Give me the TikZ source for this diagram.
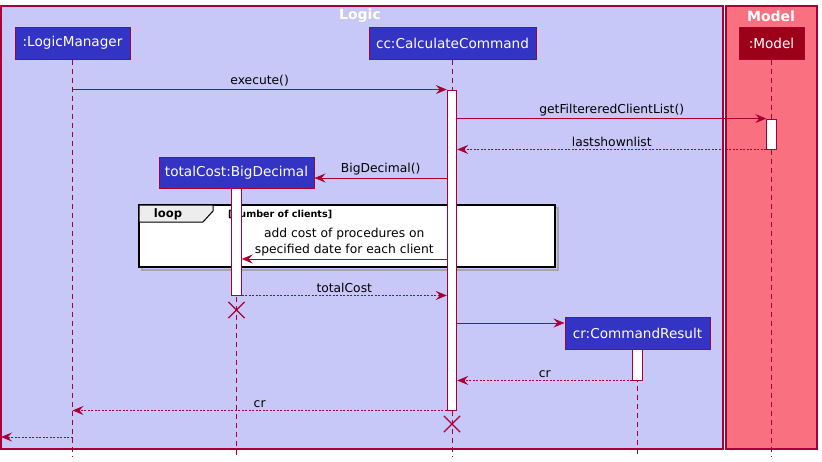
\documentclass[tikz,border=0pt]{standalone}
\usepackage{fontspec}
\setmainfont{DejaVu Sans}
\usetikzlibrary{arrows.meta,shapes.misc}
\definecolor{crim}{HTML}{A80036}
\definecolor{logicfill}{HTML}{C8C8F8}
\definecolor{modelfill}{HTML}{F97181}
\definecolor{partblue}{HTML}{3333C4}
\definecolor{partred}{HTML}{9D0019}
\tikzset{
  grp/.style={draw=crim,line width=1.1pt},
  grptitle/.style={text=white,font=\fontsize{14}{16}\selectfont\bfseries,inner sep=0pt},
  part/.style={draw=crim,line width=1pt,fill=partblue,text=white,font=\fontsize{13.6}{15}\selectfont,minimum height=32pt,inner sep=0pt},
  lifeline/.style={draw=crim,line width=0.9pt,dash pattern=on 5pt off 4pt},
  actbar/.style={draw=crim,line width=0.9pt,fill=white,inner sep=0pt,minimum width=9.5pt},
  msg/.style={draw=crim,line width=0.9pt,-{Stealth[length=11pt,width=9pt,inset=4pt]}},
  ret/.style={msg,dash pattern=on 2pt off 1.5pt},
  lbl/.style={font=\fontsize{12.3}{15}\selectfont,text=black,inner sep=2.5pt,anchor=south},
  killx/.style={draw=crim,line width=1.2pt,cross out,minimum size=15pt,inner sep=0pt}
}
\begin{document}
\begin{tikzpicture}[x=1pt,y=-1pt]
\useasboundingbox (0,0) rectangle (822,461);
% groups
\draw[grp,fill=logicfill] (1,6) rectangle (723,449);
\draw[grp,fill=modelfill] (726,6) rectangle (817,449);
\node[grptitle] (tlogic) at (360,16) {Logic};
\node[grptitle] (tmodel) at (771,16) {Model};
% participants
\node[part,minimum width=115pt] (lm) at (72.5,43) {:LogicManager};
\node[part,minimum width=167pt] (cc) at (452.5,43) {cc:CalculateCommand};
\node[part,minimum width=65pt,fill=partred] (md) at (771.5,43) {:Model};
\node[part,minimum width=155pt,minimum height=31pt] (tc) at (236.5,172.5) {totalCost:BigDecimal};
\node[part,minimum width=145pt] (cr) at (637.5,333) {cr:CommandResult};
% bottom ends of lifelines
\coordinate (bot) at (0,456);
\draw[lifeline] (lm.south) -- (lm |- bot);
\draw[lifeline] (cc.south) -- (cc |- bot);
\draw[lifeline] (md.south) -- (md |- bot);
\draw[lifeline] (tc.south) -- (tc |- bot);
\draw[lifeline] (cr.south) -- (cr |- bot);
% loop frame
\draw[line width=2pt,black!35] (141.5,207.5) rectangle (557.5,269.5);
\draw[line width=1.6pt,black,fill=white] (139,205) rectangle (555,267);
\draw[line width=1pt,black,fill=black!7] (139,205) -- (213,205) -- (213,211) -- (203,222) -- (139,222) -- cycle;
\node[font=\fontsize{11.6}{13}\selectfont\bfseries,inner sep=0pt] (looplbl) at (168,214) {loop};
\node[font=\fontsize{9.6}{11}\selectfont\bfseries,inner sep=0pt,anchor=west] (loopcond) at (228,214) {[number of clients]};
% activation bars
\node[actbar,minimum height=320pt] (acc) at (452,250) {};
\node[actbar,minimum height=30pt] (amd) at (771.5,134) {};
\node[actbar,minimum height=107pt] (atc) at (236.5,241.5) {};
\node[actbar,minimum height=31pt] (acr) at (637.5,364.5) {};
% anchor points
\coordinate (bdin) at ([yshift=-5.5pt]tc.east);
\coordinate (crin) at ([yshift=10pt]cr.west);
\coordinate (ly) at (0,259);
% messages
\draw[msg] (lm |- acc.north) -- node[lbl]{execute()} (acc.north west);
\draw[msg] (acc.east |- amd.north) -- node[lbl]{getFiltereredClientList()} (amd.north west);
\draw[ret] (amd.south west) -- node[lbl]{lastshownlist} (acc.east |- amd.south);
\draw[msg] (acc.west |- bdin) -- node[lbl]{BigDecimal()} (bdin);
\draw[msg] (acc.west |- ly) -- node[lbl,align=center,font=\fontsize{12.3}{16}\selectfont]{add cost of procedures on\\specified date for each client} (atc.east |- ly);
\draw[ret] (atc.south east) -- node[lbl]{totalCost} (acc.west |- atc.south);
\node[killx] (xtc) at (236.5,310) {};
\draw[msg] (acc.east |- crin) -- (crin);
\draw[ret] (acr.south west) -- node[lbl]{cr} (acc.east |- acr.south);
\draw[ret] (acc.south west) -- node[lbl]{cr} (lm |- acc.south);
\node[killx] (xcc) at (452,424) {};
\coordinate (outpt) at (1,437);
\draw[ret] (lm |- outpt) -- (outpt);
\end{tikzpicture}
\end{document}
